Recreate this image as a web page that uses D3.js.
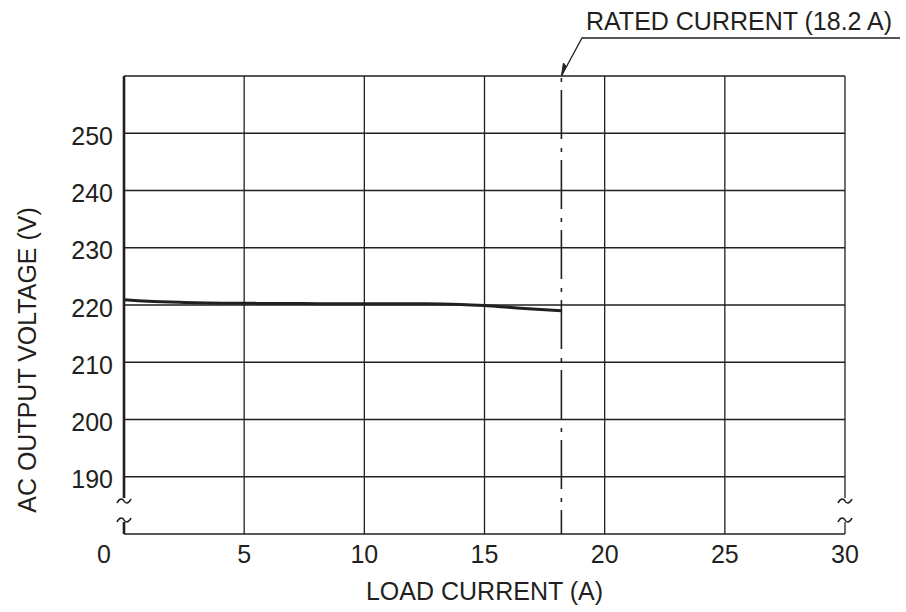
<!DOCTYPE html>
<html>
<head>
<meta charset="utf-8">
<script src="https://cdn.jsdelivr.net/npm/d3@7"></script>
<style>
  body { margin: 0; background: #fff; }
  text { font-family: "Liberation Sans", Arial, sans-serif; fill: #231f20; }
</style>
</head>
<body>
<div id="chart"></div>
<script>
"use strict";
// load current (A) vs AC output voltage (V)
var currentA = [0, 1, 2.5, 5, 7.5, 10, 12.5, 14, 15, 16, 17, 18.2];
var voltageV = [220.9, 220.65, 220.45, 220.3, 220.25, 220.2, 220.2, 220.1, 219.9, 219.6, 219.3, 219.0];

var xTicks = [0, 5, 10, 15, 20, 25, 30];
var yTicks = [190, 200, 210, 220, 230, 240, 250];
var ratedCurrent = 18.2;
var ratedLabel = "RATED CURRENT (18.2 A)";

var w = 906, h = 612;
var ink = "#231f20";
var fontSize = "25px";

var svg = d3.select("#chart").append("svg")
  .attr("width", w)
  .attr("height", h);

var x = d3.scaleLinear().domain([0, 30]).range([124, 845]);
var y = d3.scaleLinear().domain([180, 260]).range([534, 76]);

//grid lines
var grid = svg.append("g").attr("stroke", ink).attr("stroke-width", 1.3);

grid.selectAll(".hgrid")
  .data(yTicks.concat([260, 180]))
  .enter()
  .append("line")
  .attr("x1", x(0))
  .attr("x2", x(30))
  .attr("y1", function(d) { return y(d); })
  .attr("y2", function(d) { return y(d); });

grid.selectAll(".vgrid")
  .data(xTicks.slice(1, -1))
  .enter()
  .append("line")
  .attr("x1", function(d) { return x(d); })
  .attr("x2", function(d) { return x(d); })
  .attr("y1", y(260))
  .attr("y2", y(180));

//side borders with axis break
var breakTop = 498, breakBottom = 522;

function sideLine(xp, width) {
  svg.append("line")
    .attr("x1", xp).attr("x2", xp)
    .attr("y1", y(260)).attr("y2", breakTop)
    .attr("stroke", ink).attr("stroke-width", width);
  svg.append("line")
    .attr("x1", xp).attr("x2", xp)
    .attr("y1", breakBottom).attr("y2", y(180))
    .attr("stroke", ink).attr("stroke-width", width);
  [501, 520].forEach(function(cy) {
    svg.append("path")
      .attr("d", "M" + (xp - 7) + "," + (cy + 2) +
        " C" + (xp - 4) + "," + (cy - 4) + " " + (xp - 1) + "," + (cy - 2) + " " + xp + "," + cy +
        " S" + (xp + 4) + "," + (cy + 4) + " " + (xp + 7) + "," + (cy - 2))
      .attr("fill", "none")
      .attr("stroke", ink)
      .attr("stroke-width", 1.6);
  });
}
sideLine(x(0), 2.6);
sideLine(x(30), 1.3);

//rated current dash-dot line
svg.append("line")
  .attr("x1", x(ratedCurrent)).attr("x2", x(ratedCurrent))
  .attr("y1", y(260)).attr("y2", y(180))
  .attr("stroke", ink)
  .attr("stroke-width", 1.6)
  .attr("stroke-dasharray", "49,9,4,8")
  .attr("stroke-dashoffset", 56);

//data curve
var line = d3.line()
  .x(function(d, i) { return x(currentA[i]); })
  .y(function(d) { return y(d); })
  .curve(d3.curveMonotoneX);

svg.append("path")
  .datum(voltageV)
  .attr("d", line)
  .attr("fill", "none")
  .attr("stroke", ink)
  .attr("stroke-width", 3);

//tick labels
svg.selectAll(".ylab")
  .data(yTicks)
  .enter()
  .append("text")
  .attr("x", 113)
  .attr("y", function(d) { return y(d); })
  .attr("dy", "0.46em")
  .attr("text-anchor", "end")
  .style("font-size", fontSize)
  .text(function(d) { return d; });

svg.selectAll(".xlab")
  .data(xTicks)
  .enter()
  .append("text")
  .attr("x", function(d) { return x(d) - (d === 0 ? 20 : 0); })
  .attr("y", 563)
  .attr("text-anchor", "middle")
  .style("font-size", fontSize)
  .text(function(d) { return d; });

//axis titles
svg.append("text")
  .attr("x", (x(0) + x(30)) / 2)
  .attr("y", 600)
  .attr("text-anchor", "middle")
  .style("font-size", fontSize)
  .text("LOAD CURRENT (A)");

svg.append("text")
  .attr("transform", "translate(36,360) rotate(-90)")
  .attr("text-anchor", "middle")
  .style("font-size", fontSize)
  .text("AC OUTPUT VOLTAGE (V)");

//rated current callout
var tipX = x(ratedCurrent), tipY = y(260);
svg.append("path")
  .attr("d", "M" + tipX + "," + tipY + " L582,38 L900,38")
  .attr("fill", "none")
  .attr("stroke", ink)
  .attr("stroke-width", 1.3);

svg.append("path")
  .attr("d", "M" + tipX + "," + tipY + " L" + (tipX + 2) + "," + (tipY - 13) +
    " L" + (tipX + 4.5) + "," + (tipY - 10) + " Z")
  .attr("fill", ink)
  .attr("stroke", ink)
  .attr("stroke-width", 1);

svg.append("text")
  .attr("x", 586)
  .attr("y", 30)
  .style("font-size", fontSize)
  .text(ratedLabel);
</script>
</body>
</html>
